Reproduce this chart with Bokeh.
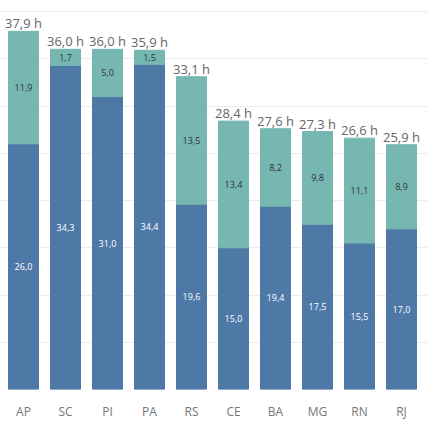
import numpy as np
from bokeh.plotting import figure
from bokeh.models import ColumnDataSource, Range1d, FixedTicker, LabelSet
from bokeh.core.properties import value
from bokeh.embed import file_html
from bokeh.resources import INLINE

categories = ["AP", "SC", "PI", "PA", "RS", "CE", "BA", "MG", "RN", "RJ"]
base_hours = [26.0, 34.3, 31.0, 34.4, 19.6, 15.0, 19.4, 17.5, 15.5, 17.0]
extra_hours = [11.9, 1.7, 5.0, 1.5, 13.5, 13.4, 8.2, 9.8, 11.1, 8.9]
y_ticks = [0, 5, 10, 15, 20, 25, 30, 35, 40]

BLUE = "#4e79a7"
TEAL = "#76b7b2"
FONT = "Open Sans"

x = np.arange(len(categories))
base = np.array(base_hours)
extra = np.array(extra_hours)
total = base + extra

def fmt(v):
    return f"{v:.1f}".replace(".", ",")

src = ColumnDataSource(dict(
    x=x,
    base=base,
    top=total,
    base_mid=base / 2,
    extra_mid=base + extra / 2,
    base_lbl=[fmt(v) for v in base],
    extra_lbl=[fmt(v) for v in extra],
    total_lbl=[fmt(v) + " h" for v in total],
))

W, H = 427, 425
frame_h = 389
px_per_unit = 9.45
px_per_cat = 42.0
x_start = -23.0 / px_per_cat

p = figure(width=W, height=H, output_backend="svg", toolbar_location=None,
           x_range=Range1d(x_start, x_start + W / px_per_cat),
           y_range=Range1d(0, frame_h / px_per_unit),
           min_border_left=0, min_border_right=0, min_border_top=0,
           min_border_bottom=H - frame_h)
p.outline_line_color = None
p.background_fill_color = "white"
p.border_fill_color = "white"

bw = 30.0 / px_per_cat
p.vbar(x="x", bottom=0, top="base", width=bw, color=BLUE, source=src)
p.vbar(x="x", bottom="base", top="top", width=bw, color=TEAL, source=src)

p.add_layout(LabelSet(x="x", y="base_mid", text="base_lbl", source=src,
                      text_align="center", text_baseline="middle",
                      text_font=value(FONT), text_font_size="9px", text_color="white"))
p.add_layout(LabelSet(x="x", y="extra_mid", text="extra_lbl", source=src,
                      text_align="center", text_baseline="middle",
                      text_font=value(FONT), text_font_size="9px", text_color="#333333"))
p.add_layout(LabelSet(x="x", y="top", text="total_lbl", source=src,
                      text_align="center", text_baseline="bottom", y_offset=-1,
                      text_font=value(FONT), text_font_size="13px", text_color="#666666"))

p.xaxis.ticker = FixedTicker(ticks=list(x))
p.xaxis.major_label_overrides = {int(i): c for i, c in zip(x, categories)}
p.xaxis.axis_line_color = None
p.xaxis.major_tick_line_color = None
p.xaxis.minor_tick_line_color = None
p.xaxis.major_label_standoff = 7
p.xaxis.major_label_text_font = FONT
p.xaxis.major_label_text_font_size = "12px"
p.xaxis.major_label_text_color = "#777777"
p.xgrid.grid_line_color = None

p.yaxis.ticker = FixedTicker(ticks=y_ticks)
p.yaxis.visible = False
p.ygrid.grid_line_color = "#ececec"

open("out.html", "w").write(file_html(p, INLINE))
